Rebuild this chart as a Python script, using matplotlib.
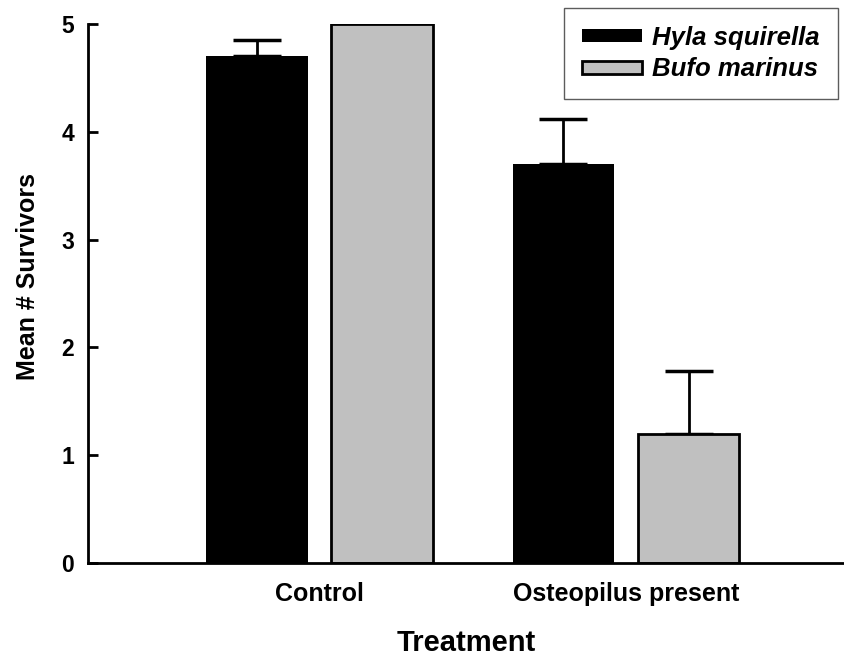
import numpy as np
import matplotlib
matplotlib.use("Agg")
import matplotlib.pyplot as plt

plt.rcParams["font.family"] = ["Liberation Sans", "DejaVu Sans"]
plt.rcParams["font.weight"] = "bold"
plt.rcParams["axes.labelweight"] = "bold"

# --- data ---------------------------------------------------------------------------
treatments = ["Control", "Osteopilus present"]
species = ["Hyla squirella", "Bufo marinus"]
hyla_mean = [4.70, 3.70]
hyla_se = [0.15, 0.42]
bufo_mean = [5.00, 1.20]
bufo_se = [0.00, 0.58]

colors = ["black", "#c0c0c0"]
W, OFF = 0.33, 0.204

fig = plt.figure(figsize=(8.45, 6.59), dpi=100)
ax = fig.add_axes([88/845, 96/659, (845-88)/845, (563-24)/659])

x = np.arange(1, len(treatments) + 1)
for k, (means, ses) in enumerate([(hyla_mean, hyla_se), (bufo_mean, bufo_se)]):
    xs = x + (2*k - 1) * OFF
    ax.bar(xs, means, W, color=colors[k], edgecolor="black",
           linewidth=0 if k == 0 else 2, label=species[k], zorder=2)
    ses = np.asarray(ses); m = ses > 0
    ax.errorbar(xs[m], np.asarray(means)[m], yerr=[np.zeros(m.sum()), ses[m]],
                fmt="none", ecolor="black", elinewidth=2, capsize=17, capthick=2.5,
                zorder=1)

ax.set_xlim(1 - (319.5-88)/306.5, 2 + (845-626)/306.5)
ax.set_ylim(0, 5)
ax.set_xticks(x, treatments, fontsize=18, fontweight="bold")
ax.set_yticks(range(6))
ax.tick_params(axis="y", direction="in", length=7, width=2, labelsize=16.5, pad=10)
ax.tick_params(axis="x", length=0, pad=14)
for s in ["top", "right"]:
    ax.spines[s].set_visible(False)
for s in ["left", "bottom"]:
    ax.spines[s].set_linewidth(2)

ax.set_ylabel("Mean # Survivors", fontsize=18)
ax.yaxis.set_label_coords(-0.063, 0.532)
ax.set_xlabel("Treatment", fontsize=21, labelpad=16)

leg = ax.legend(loc="upper right", bbox_to_anchor=(838/845, 1 - 8/659),
                bbox_transform=fig.transFigure, borderaxespad=0, fancybox=False,
                handlelength=2.35, handleheight=0.4, handletextpad=0.4,
                labelspacing=0.29, borderpad=0.7,
                prop={"size": 18.5, "style": "italic", "weight": "bold"})
leg.get_frame().set_edgecolor("#333333")
leg.get_frame().set_linewidth(1)

fig.savefig("out.png", dpi=100)
